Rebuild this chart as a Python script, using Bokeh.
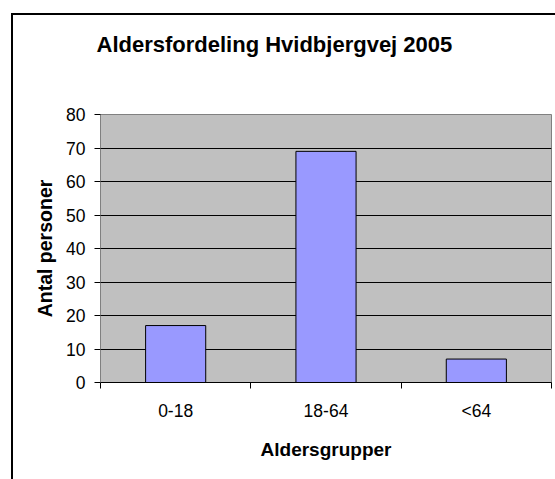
from bokeh.plotting import figure
from bokeh.models import Range1d, FixedTicker, ColumnDataSource, Title
from bokeh.embed import file_html
from bokeh.resources import INLINE

categories = ["0-18", "18-64", "<64"]
counts = [17, 69, 7]
y_ticks = [0, 10, 20, 30, 40, 50, 60, 70, 80]
title_text = "Aldersfordeling Hvidbjergvej 2005"
x_label = "Aldersgrupper"
y_label = "Antal personer"

x_pos = [i + 0.5 for i in range(len(categories))]
source = ColumnDataSource(dict(x=x_pos, top=counts, cat=categories))

p = figure(width=555, height=479, output_backend="svg", toolbar_location=None,
           x_range=Range1d(0, len(categories)), y_range=Range1d(y_ticks[0], y_ticks[-1]),
           min_border_left=100, min_border_right=4, min_border_top=114, min_border_bottom=97)

# chart-area border (left and top edges only, the rest lies outside the window)
p.styles = {"box-shadow": "inset 11px 13px 0 0 white, inset 13px 15px 0 0 black",
            "background-color": "white"}

p.background_fill_color = "#C0C0C0"
p.border_fill_color = None
p.outline_line_color = "#808080"
p.outline_line_width = 1

p.vbar(x="x", top="top", width=0.4, source=source,
       fill_color="#9999FF", line_color="black", line_width=1)

# spacer between frame and title, then the title
p.add_layout(Title(text=" ", text_font_size="1px", standoff=55), "above")
p.add_layout(Title(text=title_text, text_font="Liberation Sans", text_font_size="22px",
                   text_font_style="bold", text_color="black", align="left",
                   offset=-4, standoff=0), "above")

# grid
p.xgrid.grid_line_color = None
p.ygrid.grid_line_color = "black"
p.ygrid.grid_line_width = 1
p.ygrid.ticker = FixedTicker(ticks=y_ticks)

# y axis
p.yaxis.ticker = FixedTicker(ticks=y_ticks)
p.yaxis.axis_line_color = "#808080"
p.yaxis.major_tick_line_color = "black"
p.yaxis.major_tick_in = 0
p.yaxis.major_tick_out = 6
p.yaxis.minor_tick_line_color = None
p.yaxis.major_label_text_font = "Liberation Sans"
p.yaxis.major_label_text_font_size = "17.5px"
p.yaxis.major_label_text_color = "black"
p.yaxis.major_label_standoff = 9
p.yaxis.axis_label = y_label
p.yaxis.axis_label_text_font = "Liberation Sans"
p.yaxis.axis_label_text_font_size = "19.5px"
p.yaxis.axis_label_text_font_style = "bold"
p.yaxis.axis_label_text_color = "black"
p.yaxis.axis_label_standoff = 7

# x axis
p.xaxis.ticker = FixedTicker(ticks=x_pos, minor_ticks=list(range(len(categories) + 1)))
p.xaxis.major_label_overrides = {x: c for x, c in zip(x_pos, categories)}
p.xaxis.axis_line_color = "black"
p.xaxis.major_tick_line_color = None
p.xaxis.minor_tick_line_color = "black"
p.xaxis.minor_tick_in = 0
p.xaxis.minor_tick_out = 6
p.xaxis.major_tick_out = 6
p.xaxis.major_label_text_font = "Liberation Sans"
p.xaxis.major_label_text_font_size = "17.5px"
p.xaxis.major_label_text_color = "black"
p.xaxis.major_label_standoff = 12
p.xaxis.axis_label = x_label
p.xaxis.axis_label_text_font = "Liberation Sans"
p.xaxis.axis_label_text_font_size = "19px"
p.xaxis.axis_label_text_font_style = "bold"
p.xaxis.axis_label_text_color = "black"
p.xaxis.axis_label_standoff = 15

open("out.html", "w").write(file_html(p, INLINE))
